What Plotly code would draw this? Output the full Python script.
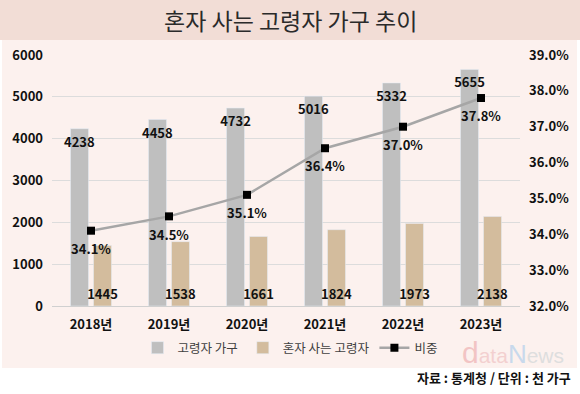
import plotly.graph_objects as go

years = ["2018년", "2019년", "2020년", "2021년", "2022년", "2023년"]
elderly_households = [4238, 4458, 4732, 5016, 5332, 5655]
living_alone = [1445, 1538, 1661, 1824, 1973, 2138]
share_pct = [34.1, 34.5, 35.1, 36.4, 37.0, 37.8]

FONT = "Noto Sans CJK KR"
W, H = 580, 394
LABEL_FONT = dict(family=FONT, size=13, color="#111", weight="bold")

fig = go.Figure()
fig.add_trace(go.Bar(
    x=years, y=elderly_households, name="고령자 가구",
    marker=dict(color="#bfbfbf"),
    text=[str(v) for v in elderly_households],
    textposition="inside", insidetextanchor="end", constraintext="none",
    textfont=LABEL_FONT, textangle=0,
))
fig.add_trace(go.Bar(
    x=years, y=living_alone, name="혼자 사는 고령자",
    marker=dict(color="#d3bc9d"),
    text=[str(v) for v in living_alone],
    textposition="inside", insidetextanchor="start", constraintext="none",
    textfont=LABEL_FONT, textangle=0,
))
fig.add_trace(go.Scatter(
    x=years, y=share_pct, name="비중", yaxis="y2",
    mode="lines+markers",
    line=dict(color="#a6a6a6", width=2.5),
    marker=dict(symbol="square", size=8, color="#000"),
    cliponaxis=False,
))
# labels for the share line (invisible larger markers give extra gap below the points)
fig.add_trace(go.Scatter(
    x=years, y=share_pct, yaxis="y2", showlegend=False, hoverinfo="skip",
    mode="markers+text",
    marker=dict(size=20, color="rgba(0,0,0,0)"),
    text=[f"{v:.1f}%" for v in share_pct],
    textposition="bottom center",
    textfont=LABEL_FONT,
    cliponaxis=False,
))

xd = [52 / W, 520 / W]
yd = [(H - 306) / H, (H - 55) / H]

fig.update_layout(
    width=W, height=H,
    margin=dict(l=0, r=0, t=0, b=0, autoexpand=False),
    paper_bgcolor="#ffffff",
    plot_bgcolor="rgba(0,0,0,0)",
    barmode="group", bargap=0.41, bargroupgap=0.22,
    font=dict(family=FONT, color="#111"),
    xaxis=dict(domain=xd, showgrid=False, showline=True, linecolor="#d0d0d0",
               tickfont=LABEL_FONT, ticks="", ticklabelstandoff=6, automargin=False),
    yaxis=dict(domain=yd, range=[0, 6000], dtick=1000, showgrid=True,
               gridcolor="#dcdcdc", gridwidth=1, zeroline=False,
               tickfont=LABEL_FONT, ticklabelstandoff=8, automargin=False),
    yaxis2=dict(overlaying="y", side="right", range=[32, 39], dtick=1,
                showgrid=False, zeroline=False, tickformat=".1f", ticksuffix="%",
                tickfont=LABEL_FONT, ticklabelstandoff=8, anchor="x", automargin=False),
    legend=dict(orientation="h", x=0.5, xanchor="center",
                y=(H - 348) / H, yanchor="middle",
                font=dict(family=FONT, size=12.5, color="#404040"),
                bgcolor="rgba(0,0,0,0)", traceorder="normal"),
    showlegend=True,
)

fig.add_shape(type="rect", xref="paper", yref="paper",
              x0=0, x1=1, y0=(H - 40) / H, y1=1,
              fillcolor="#f2ddd6", line=dict(width=0), layer="below")
fig.add_shape(type="rect", xref="paper", yref="paper",
              x0=2 / W, x1=577 / W, y0=(H - 368) / H, y1=(H - 40) / H,
              fillcolor="#fcf1ee", line=dict(width=0), layer="below")

fig.add_annotation(text="혼자 사는 고령자 가구 추이", xref="paper", yref="paper",
                   x=0.5, y=(H - 20) / H, xanchor="center", yanchor="middle",
                   showarrow=False,
                   font=dict(family=FONT, size=23, color="#2a2a2a"))
fig.add_annotation(
    text=("<span style='color:#f2c4c4;font-size:30px'>d</span>"
          "<span style='color:#f3d0d0'>ata</span>"
          "<span style='color:#c8d9ec;font-size:26px'>N</span>"
          "<span style='color:#dedede'>ews</span>"),
    xref="paper", yref="paper", x=566 / W, y=(H - 352) / H,
    xanchor="right", yanchor="middle", showarrow=False,
    font=dict(family="Liberation Sans", size=21))
fig.add_annotation(text="자료 : 통계청 / 단위 : 천 가구", xref="paper", yref="paper",
                   x=573 / W, y=(H - 377) / H, xanchor="right", yanchor="middle",
                   showarrow=False,
                   font=dict(family=FONT, size=13, color="#111", weight="bold"))

fig.write_html("out.html", config={"displayModeBar": False},
               post_script="document.body.style.margin='0';document.body.style.overflow='hidden';")
